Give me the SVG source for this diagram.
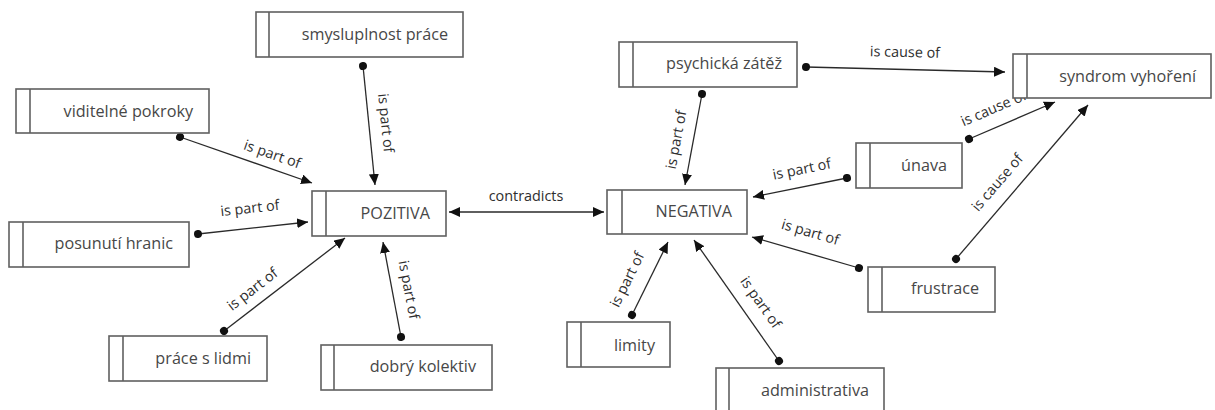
<svg xmlns="http://www.w3.org/2000/svg" width="1215" height="410" viewBox="0 0 1215 410">
<style>
.bg{fill:#ffffff}
.box{fill:#ffffff;stroke:#606060;stroke-width:1.6}
.div{stroke:#606060;stroke-width:1.6}
.nt{font-family:"Open Sans","Noto Sans","DejaVu Sans",sans-serif;font-size:16.2px;fill:#474747;text-anchor:end}
.lt{font-family:"Open Sans","Noto Sans","DejaVu Sans",sans-serif;font-size:14.4px;fill:#2e2e2e;text-anchor:middle}
.ln{stroke:#2a2a2a;stroke-width:1.3;fill:none;marker-start:url(#dot);marker-end:url(#arr)}
.ln2{stroke:#2a2a2a;stroke-width:1.3;fill:none;marker-start:url(#arrs);marker-end:url(#arr)}
</style>
<defs>
<marker id="arr" markerUnits="userSpaceOnUse" markerWidth="12" markerHeight="10" refX="11" refY="5" orient="auto"><path d="M0,0 L11,5 L0,10 z" fill="#111"/></marker>
<marker id="arrs" markerUnits="userSpaceOnUse" markerWidth="12" markerHeight="10" refX="11" refY="5" orient="auto-start-reverse"><path d="M0,0 L11,5 L0,10 z" fill="#111"/></marker>
<marker id="dot" markerUnits="userSpaceOnUse" markerWidth="10" markerHeight="10" refX="5" refY="5" orient="auto"><circle cx="5" cy="5" r="4" fill="#111"/></marker>
</defs>
<rect class="bg" x="0" y="0" width="1215" height="410"/>
<g id="connectors">
<line class="ln" x1="180" y1="137" x2="312" y2="183"/>
<text class="lt" transform="translate(272,155) rotate(19.2)" y="4">is part of</text>
<line class="ln" x1="363" y1="66" x2="375" y2="185"/>
<text class="lt" transform="translate(385,123) rotate(84.2)" y="4">is part of</text>
<line class="ln" x1="198" y1="234" x2="308" y2="222"/>
<text class="lt" transform="translate(250,209) rotate(-6.2)" y="4">is part of</text>
<line class="ln" x1="224" y1="331" x2="345" y2="238"/>
<text class="lt" transform="translate(253,290) rotate(-37.5)" y="4">is part of</text>
<line class="ln" x1="401" y1="337" x2="383" y2="242"/>
<text class="lt" transform="translate(408,290) rotate(79.3)" y="4">is part of</text>
<line class="ln2" x1="449" y1="212" x2="604" y2="212"/>
<text class="lt" x="526" y="201">contradicts</text>
<line class="ln" x1="702" y1="94" x2="685" y2="185"/>
<text class="lt" transform="translate(677,140) rotate(-79.4)" y="4">is part of</text>
<line class="ln" x1="806" y1="67" x2="1005" y2="72"/>
<text class="lt" transform="translate(905,53) rotate(1.4)" y="4">is cause of</text>
<line class="ln" x1="847" y1="178" x2="753" y2="197"/>
<text class="lt" transform="translate(802,170) rotate(-11.4)" y="4">is part of</text>
<line class="ln" x1="969" y1="139" x2="1055" y2="102"/>
<text class="lt" transform="translate(994,109) rotate(-23.3)" y="4">is cause of</text>
<line class="ln" x1="859" y1="268" x2="752" y2="237"/>
<text class="lt" transform="translate(810,233) rotate(16.2)" y="4">is part of</text>
<line class="ln" x1="956" y1="259" x2="1088" y2="105"/>
<text class="lt" transform="translate(998,183) rotate(-49.4)" y="4">is cause of</text>
<line class="ln" x1="632" y1="315" x2="668" y2="242"/>
<text class="lt" transform="translate(628,280) rotate(-63.7)" y="4">is part of</text>
<line class="ln" x1="779" y1="361" x2="694" y2="240"/>
<text class="lt" transform="translate(760,303) rotate(54.9)" y="4">is part of</text>
</g>
<g id="n-smysluplnost"><rect class="box" x="256" y="12" width="207" height="45"/><line class="div" x1="269" y1="12" x2="269" y2="57"/><text class="nt" x="448" y="40">smysluplnost práce</text></g>
<g id="n-viditelne"><rect class="box" x="16" y="89" width="193" height="44"/><line class="div" x1="30" y1="89" x2="30" y2="133"/><text class="nt" x="193" y="117">viditelné pokroky</text></g>
<g id="n-posunuti"><rect class="box" x="9" y="222" width="180" height="45"/><line class="div" x1="23" y1="222" x2="23" y2="267"/><text class="nt" x="173" y="249">posunutí hranic</text></g>
<g id="n-pozitiva"><rect class="box" x="312" y="191" width="134" height="45"/><line class="div" x1="326" y1="191" x2="326" y2="236"/><text class="nt" x="430" y="219">POZITIVA</text></g>
<g id="n-prace"><rect class="box" x="109" y="336" width="158" height="45"/><line class="div" x1="123" y1="336" x2="123" y2="381"/><text class="nt" x="251" y="364">práce s lidmi</text></g>
<g id="n-dobry"><rect class="box" x="321" y="345" width="171" height="45"/><line class="div" x1="334" y1="345" x2="334" y2="390"/><text class="nt" x="476" y="372">dobrý kolektiv</text></g>
<g id="n-psychicka"><rect class="box" x="619" y="42" width="178" height="45"/><line class="div" x1="633" y1="42" x2="633" y2="87"/><text class="nt" x="782" y="69">psychická zátěž</text></g>
<g id="n-negativa"><rect class="box" x="607" y="190" width="140" height="44"/><line class="div" x1="622" y1="190" x2="622" y2="234"/><text class="nt" x="732" y="217">NEGATIVA</text></g>
<g id="n-limity"><rect class="box" x="567" y="322" width="103" height="45"/><line class="div" x1="581" y1="322" x2="581" y2="367"/><text class="nt" x="655" y="351">limity</text></g>
<g id="n-administrativa"><rect class="box" x="716" y="368" width="168" height="50"/><line class="div" x1="729" y1="368" x2="729" y2="418"/><text class="nt" x="869" y="396">administrativa</text></g>
<g id="n-syndrom"><rect class="box" x="1013" y="54" width="198" height="44"/><line class="div" x1="1027" y1="54" x2="1027" y2="98"/><text class="nt" x="1196" y="82">syndrom vyhoření</text></g>
<g id="n-unava"><rect class="box" x="856" y="143" width="106" height="45"/><line class="div" x1="870" y1="143" x2="870" y2="188"/><text class="nt" x="947" y="171">únava</text></g>
<g id="n-frustrace"><rect class="box" x="868" y="267" width="127" height="45"/><line class="div" x1="882" y1="267" x2="882" y2="312"/><text class="nt" x="979" y="294">frustrace</text></g>
</svg>
